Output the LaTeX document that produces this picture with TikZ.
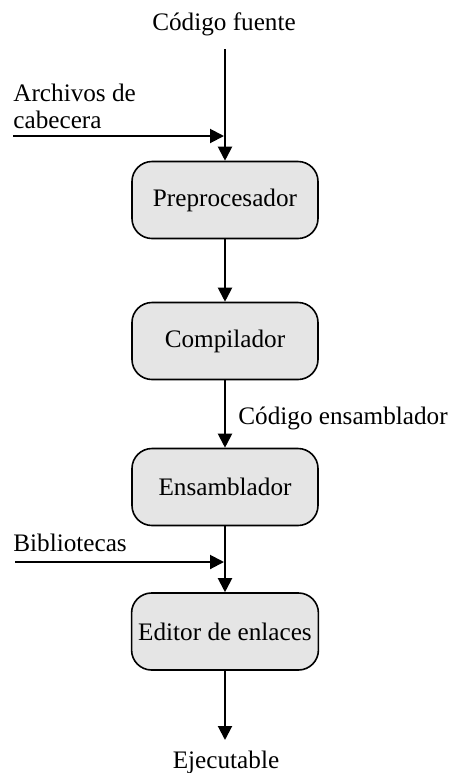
\documentclass[tikz,border=0pt]{standalone}
\usepackage{fontspec}
\setmainfont{Liberation Serif}
\usetikzlibrary{arrows.meta,positioning}

\tikzset{
  etapa/.style={draw, line width=0.8pt, fill=gray!20, rounded corners=10pt,
    minimum width=93pt, minimum height=38.5pt, font=\fontsize{12.6}{14}\selectfont},
  flujo/.style={line width=1pt, -{Triangle[length=7pt,width=7pt]}},
  rotulo/.style={font=\fontsize{12.6}{13.5}\selectfont, inner sep=0pt}
}

\begin{document}
\begin{tikzpicture}[x=0.5pt,y=-0.5pt]
\useasboundingbox (0,0) rectangle (454,773);
\node[etapa] (prepro) at (225,200) {Preprocesador};
\node[etapa] (compila) at (225,341) {Compilador};
\node[etapa] (ensambla) at (225,487) {Ensamblador};
\node[etapa] (enlaza) at (225,631.5) {Editor de enlaces};

\node[rotulo] (fuente) at (224,24) {Código fuente};
\node[rotulo, anchor=west, align=left] (cabecera) at (13,106) {Archivos de\\cabecera};
\node[rotulo, anchor=west] (codens) at (238,418) {Código ensamblador};
\node[rotulo, anchor=west] (biblio) at (13,543) {Bibliotecas};
\node[rotulo] (ejecuta) at (226,762) {Ejecutable};

\coordinate (entrada) at (225,49);
\coordinate (cabini) at (13,136);
\coordinate (cabfin) at (224,136);
\coordinate (bibini) at (15,562);
\coordinate (bibfin) at (224,562);
\coordinate (salida) at (225,740);

\draw[flujo] (entrada) -- (prepro);
\draw[flujo] (cabini) -- (cabfin);
\draw[flujo] (prepro) -- (compila);
\draw[flujo] (compila) -- (ensambla);
\draw[flujo] (ensambla) -- (enlaza);
\draw[flujo] (bibini) -- (bibfin);
\draw[flujo] (enlaza) -- (salida);
\end{tikzpicture}
\end{document}
